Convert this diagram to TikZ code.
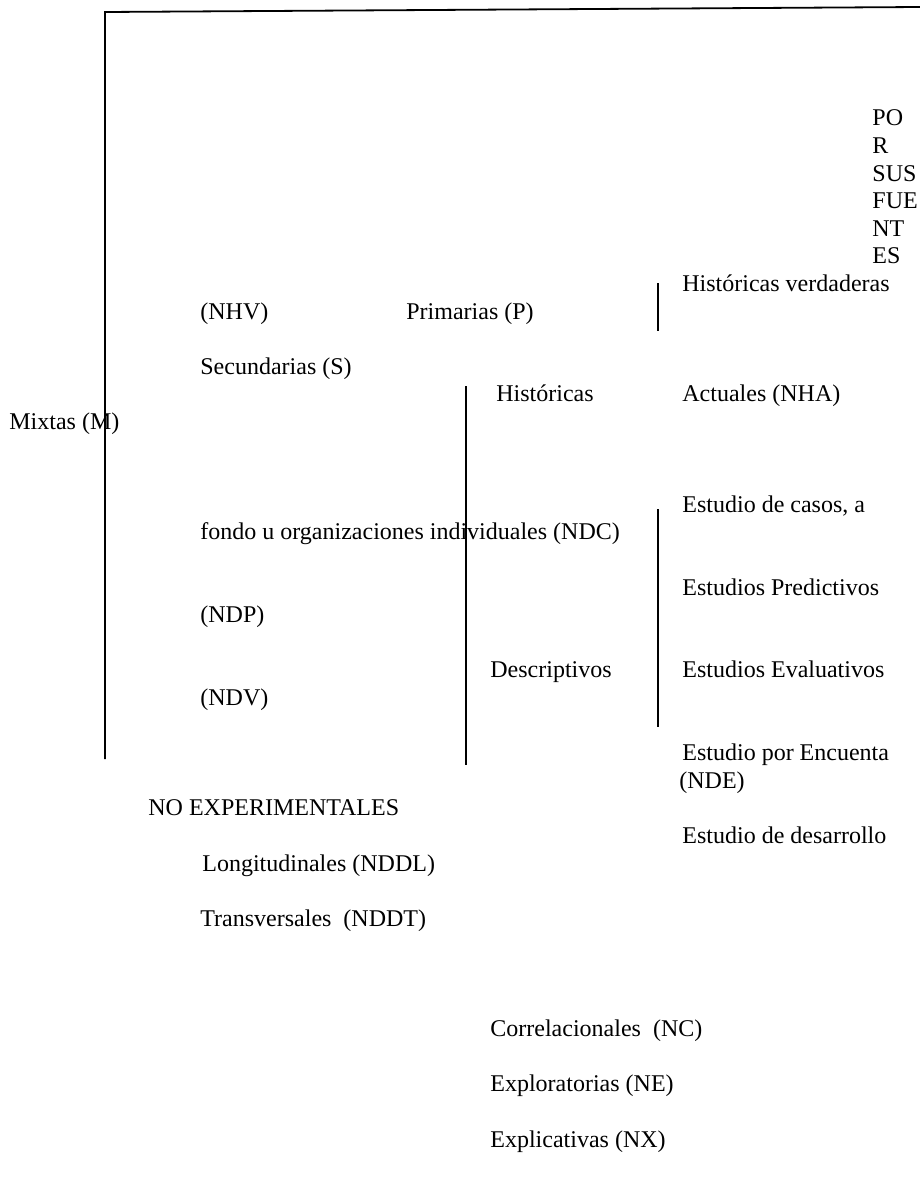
\documentclass[tikz,border=0pt]{standalone}
\usepackage{fontspec}
\setmainfont{Liberation Serif}
\usepackage{tikz}

\begin{document}
\begin{tikzpicture}[x=0.5pt, y=-0.5pt,
    txt/.style={anchor=base west, inner sep=0pt, font=\fontsize{12pt}{13.8pt}\selectfont},
    bar/.style={line width=0.9pt, color=black}]

    \useasboundingbox (0,0) rectangle (920,1183);

    % Brackets
    \draw[bar] (105,759) -- (105,12) -- (920,7);
    \draw[bar] (466,386) -- (466,765);
    \draw[bar] (658,283) -- (658,331);
    \draw[bar] (658,509) -- (658,727);

    % Nodes
    \node[txt] (por1) at (872,125.8) {PO};
    \node[txt] (por2) at (872,153.4) {R};
    \node[txt] (por3) at (872,181) {SUS};
    \node[txt] (por4) at (872,208.6) {FUE};
    \node[txt] (por5) at (872,236.2) {NT};
    \node[txt] (por6) at (872,263.8) {ES};

    \node[txt] (hverd) at (682,291.4) {Históricas verdaderas};
    \node[txt] (nhv) at (200,319) {(NHV)};
    \node[txt] (prim) at (406,319) {Primarias (P)};
    \node[txt] (secu) at (200,374.2) {Secundarias (S)};
    \node[txt] (hist) at (496,401.8) {Históricas};
    \node[txt] (actu) at (682,401.8) {Actuales (NHA)};
    \node[txt] (mixt) at (9,429.4) {Mixtas (M)};

    \node[txt] (casos) at (682,512.2) {Estudio de casos, a};
    \node[txt] (fondo) at (200,539.8) {fondo u organizaciones individuales (NDC)};
    \node[txt] (pred) at (682,595) {Estudios Predictivos};
    \node[txt] (ndp) at (200,622.6) {(NDP)};
    \node[txt] (desc) at (490,677.8) {Descriptivos};
    \node[txt] (eval) at (682,677.8) {Estudios Evaluativos};
    \node[txt] (ndv) at (200,705.4) {(NDV)};
    \node[txt] (encu) at (682,760.6) {Estudio por Encuenta};
    \node[txt] (nde) at (679,788.2) {(NDE)};
    \node[txt] (noexp) at (148,815.8) {NO EXPERIMENTALES};
    \node[txt] (desa) at (682,843.4) {Estudio de desarrollo};
    \node[txt] (long) at (202,871) {Longitudinales (NDDL)};
    \node[txt] (trans) at (200,926.2) {Transversales\ \ (NDDT)};

    \node[txt] (corr) at (490,1036.6) {Correlacionales\ \ (NC)};
    \node[txt] (expl) at (490,1091.8) {Exploratorias (NE)};
    \node[txt] (expx) at (490,1147) {Explicativas (NX)};
\end{tikzpicture}
\end{document}
